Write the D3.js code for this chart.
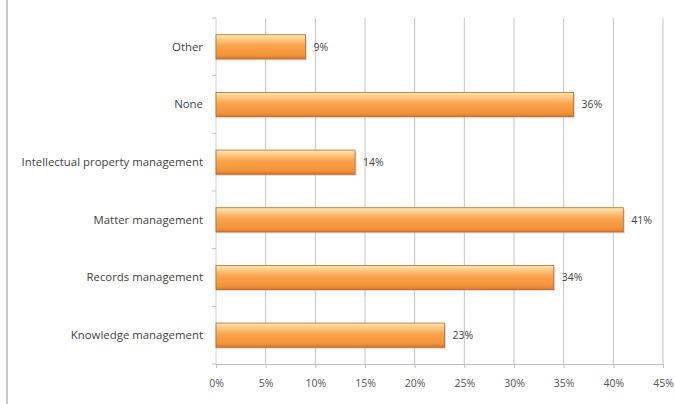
<html>
<script src="https://d3js.org/d3.v7.min.js"></script>
<body style="margin:0;background:#fff"></body>
<script>
  // chart data
  var categories = ["Other", "None", "Intellectual property management", "Matter management", "Records management", "Knowledge management"];
  var values = [9, 36, 14, 41, 34, 23];
  var tickValues = [0, 5, 10, 15, 20, 25, 30, 35, 40, 45];

  var margin = { top: 18, right: 12, bottom: 40, left: 216 },
    width = 675 - margin.left - margin.right,
    height = 404 - margin.top - margin.bottom;

  var svg = d3.select("body").append("svg")
    .attr("width", 675)
    .attr("height", 404);

  // bar gradient
  var defs = svg.append("defs");
  var grad = defs.append("linearGradient").attr("id", "barGrad")
    .attr("x1", 0).attr("y1", 0).attr("x2", 0).attr("y2", 1);
  grad.append("stop").attr("offset", "0%").attr("stop-color", "#fde8b8");
  grad.append("stop").attr("offset", "22%").attr("stop-color", "#fcc67c");
  grad.append("stop").attr("offset", "45%").attr("stop-color", "#f9a44e");
  grad.append("stop").attr("offset", "85%").attr("stop-color", "#f39339");
  grad.append("stop").attr("offset", "100%").attr("stop-color", "#d9772a");

  // left frame line
  svg.append("line").attr("x1", 7).attr("x2", 7).attr("y1", 0).attr("y2", 404)
    .style("stroke", "#c8c8c8").style("stroke-width", 2);

  var g = svg.append("g").attr("transform", "translate(" + margin.left + "," + margin.top + ")");

  var x = d3.scaleLinear().domain([0, 45]).range([0, 447]);
  var y = d3.scaleBand().domain(categories).range([0, height]).paddingInner(0.58).paddingOuter(0.29);

  // grid lines
  g.append("g").selectAll("line")
    .data(tickValues.slice(1))
    .enter().append("line")
    .attr("x1", function (d) { return x(d); })
    .attr("x2", function (d) { return x(d); })
    .attr("y1", 0).attr("y2", height)
    .style("stroke", "#c4c4c4").style("stroke-width", 1);

  // x axis
  var xAxis = g.append("g").attr("transform", "translate(0," + height + ")")
    .call(d3.axisBottom(x).tickValues(tickValues).tickSize(4).tickPadding(12).tickFormat(function (d) { return d + "%"; }));
  xAxis.select(".domain").style("stroke", "#bdbdbd");
  xAxis.selectAll(".tick line").style("stroke", "#bdbdbd");
  xAxis.selectAll("text").style("font-family", "'Open Sans', sans-serif").style("font-size", "10.5px").style("fill", "#555");

  // y axis (ticks at band boundaries)
  var step = height / categories.length;
  g.append("line").attr("x1", 0).attr("x2", 0).attr("y1", 0).attr("y2", height)
    .style("stroke", "#d0d0d0");
  g.append("g").selectAll("line")
    .data(d3.range(categories.length + 1))
    .enter().append("line")
    .attr("x1", -4).attr("x2", 0)
    .attr("y1", function (d) { return d * step; })
    .attr("y2", function (d) { return d * step; })
    .style("stroke", "#c0c0c0");

  g.append("g").selectAll("text")
    .data(categories)
    .enter().append("text")
    .attr("x", -13)
    .attr("y", function (d) { return y(d) + y.bandwidth() / 2; })
    .attr("dy", "0.35em")
    .style("text-anchor", "end")
    .style("font-family", "'Open Sans', sans-serif")
    .style("font-size", "11.4px")
    .style("fill", "#444")
    .text(function (d) { return d; });

  // bar shadows
  g.append("g").selectAll("rect")
    .data(values)
    .enter().append("rect")
    .attr("x", 0)
    .attr("y", function (d, i) { return y(categories[i]) + 1.5; })
    .attr("width", function (d) { return x(d) + 1.5; })
    .attr("height", y.bandwidth())
    .style("fill", "#b0b0b0").style("opacity", 0.45);

  // bars
  g.append("g").selectAll("rect")
    .data(values)
    .enter().append("rect")
    .attr("x", 0)
    .attr("y", function (d, i) { return y(categories[i]); })
    .attr("width", function (d) { return x(d); })
    .attr("height", y.bandwidth())
    .style("fill", "url(#barGrad)")
    .style("stroke", "#b8692a").style("stroke-width", 0.8);

  // value labels
  g.append("g").selectAll("text")
    .data(values)
    .enter().append("text")
    .attr("x", function (d) { return x(d) + 8; })
    .attr("y", function (d, i) { return y(categories[i]) + y.bandwidth() / 2; })
    .attr("dy", "0.35em")
    .style("font-family", "'Open Sans', sans-serif")
    .style("font-size", "10.5px")
    .style("fill", "#444")
    .text(function (d) { return d + "%"; });
</script>
</html>
